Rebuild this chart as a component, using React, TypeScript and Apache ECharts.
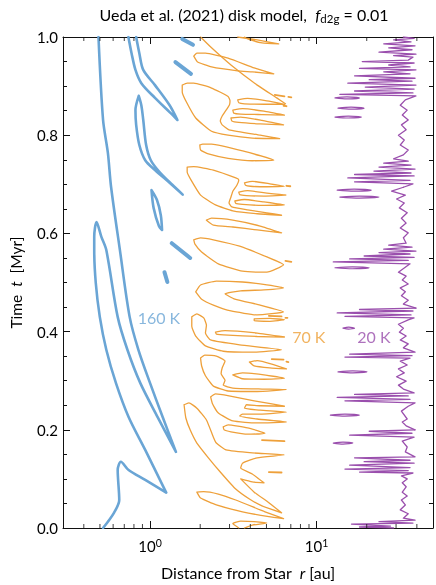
import React, { useEffect, useRef } from 'react';
import * as echarts from 'echarts';

const BLUE = '#6aa5d5';
const ORANGE = '#eea03a';
const PURPLE = '#9a4fad';
const FONT = 'Lato, "Noto Sans", sans-serif';

// axes
const xMin = 0.3;
const xMax = 50;
const yTickLabels = ['0.0', '0.2', '0.4', '0.6', '0.8', '1.0'];
const xMinorTicks = [0.4, 0.5, 0.6, 0.7, 0.8, 0.9, 2, 3, 4, 5, 6, 7, 8, 9, 20, 30, 40];

// 160 K (r [au], t [Myr])
const blueMain = [
  [0.49, 1.0], [0.522, 0.831], [0.558, 0.764], [0.583, 0.695], [0.659, 0.566], [0.754, 0.43], [0.851, 0.363],
  [1.0, 0.295], [1.19, 0.226], [1.43, 0.155], [1.11, 0.226], [0.874, 0.295], [0.731, 0.363], [0.639, 0.43],
  [0.546, 0.566], [0.51, 0.593], [0.477, 0.623], [0.462, 0.593], [0.462, 0.566], [0.472, 0.499], [0.499, 0.43],
  [0.546, 0.363], [0.624, 0.295], [0.743, 0.226], [0.935, 0.159], [1.17, 0.092], [1.25, 0.072], [0.935, 0.098],
  [0.743, 0.118], [0.668, 0.135], [0.639, 0.118], [0.653, 0.057], [0.607, 0.031], [0.522, 0.0],
];
const blueTop = [
  [0.741, 1.0], [0.774, 0.967], [0.817, 0.933], [0.886, 0.906], [1.07, 0.876], [1.31, 0.847], [1.46, 0.831],
  [1.31, 0.861], [1.07, 0.902], [0.91, 0.933], [0.862, 0.967], [0.825, 1.0],
];
const blueLoop = [
  [0.855, 0.88], [0.817, 0.851], [0.825, 0.821], [0.862, 0.78], [0.935, 0.749], [1.07, 0.729], [1.31, 0.703],
  [1.57, 0.679], [1.36, 0.699], [1.14, 0.725], [1.01, 0.749], [0.947, 0.78], [0.91, 0.831], [0.886, 0.861], [0.855, 0.88],
];
const blueOval = [[1.02, 0.688], [1.1, 0.668], [1.16, 0.637], [1.18, 0.607], [1.13, 0.615], [1.05, 0.652], [1.02, 0.688]];
const blueBlobs = [
  [[1.56, 0.996], [1.81, 0.984]],
  [[1.42, 0.949], [1.76, 0.925]],
  [[1.35, 0.58], [1.74, 0.55]],
  [[1.22, 0.521], [1.27, 0.501]],
];

// 70 K
const orangeTop = [[2.01, 1.0], [2.34, 0.978], [3.06, 0.943], [4.4, 0.902], [5.76, 0.876], [6.5, 0.864]];
const orangeSliver = [[3.36, 1.0], [4.4, 0.994], [5.92, 0.986], [4.7, 0.988], [3.85, 0.996], [3.69, 1.0]];
const orangeT3 = [[1.83, 0.961], [1.91, 0.967], [2.15, 0.967], [2.94, 0.957], [4.22, 0.937], [5.53, 0.925], [4.11, 0.929], [3.36, 0.931], [2.34, 0.939], [1.93, 0.949], [1.83, 0.961]];
const orangeG1 = [
  [1.56, 0.902], [1.67, 0.906], [1.83, 0.906], [2.34, 0.896], [2.94, 0.879], [3.02, 0.87], [3.0, 0.862], [2.86, 0.851],
  [2.71, 0.839], [2.64, 0.829], [2.71, 0.821], [2.98, 0.811], [4.58, 0.8], [6.0, 0.793], [4.11, 0.794], [2.94, 0.8],
  [2.34, 0.808], [1.88, 0.835], [1.65, 0.868], [1.56, 0.888], [1.56, 0.902],
];
const orangeG1a = [[3.36, 0.872], [3.85, 0.875], [5.03, 0.87], [6.41, 0.863], [4.83, 0.863], [3.69, 0.864], [3.41, 0.866], [3.36, 0.872]];
const orangeG1b = [[3.14, 0.851], [3.59, 0.854], [4.83, 0.849], [6.41, 0.841], [4.7, 0.842], [3.5, 0.843], [3.18, 0.845], [3.14, 0.851]];
const orangeG1c = [[3.06, 0.835], [3.5, 0.837], [4.7, 0.83], [6.33, 0.821], [4.58, 0.823], [3.41, 0.826], [3.1, 0.829], [3.06, 0.835]];
const orangeT4 = [[1.99, 0.78], [2.07, 0.782], [2.34, 0.782], [3.69, 0.767], [5.53, 0.749], [4.11, 0.748], [2.94, 0.753], [2.24, 0.762], [2.01, 0.77], [1.99, 0.78]];
const orangeG2 = [
  [1.67, 0.735], [1.83, 0.736], [2.4, 0.729], [3.27, 0.713], [3.41, 0.709], [3.32, 0.698], [3.14, 0.686], [3.06, 0.674],
  [2.98, 0.662], [3.1, 0.654], [3.85, 0.648], [5.03, 0.642], [6.16, 0.637], [4.4, 0.64], [3.14, 0.646], [2.47, 0.658],
  [2.01, 0.678], [1.76, 0.709], [1.67, 0.725], [1.67, 0.735],
];
const orangeG2a = [[3.69, 0.703], [4.11, 0.706], [5.24, 0.701], [6.41, 0.696], [5.03, 0.695], [4.0, 0.696], [3.74, 0.698], [3.69, 0.703]];
const orangeG2b = [[3.41, 0.684], [3.85, 0.687], [5.03, 0.682], [6.59, 0.678], [4.83, 0.676], [3.79, 0.677], [3.45, 0.679], [3.41, 0.684]];
const orangeG2c = [[3.23, 0.666], [3.69, 0.669], [4.83, 0.664], [6.41, 0.658], [4.7, 0.657], [3.59, 0.659], [3.27, 0.661], [3.23, 0.666]];
const orangeT5 = [[2.18, 0.627], [2.34, 0.631], [3.14, 0.627], [4.58, 0.615], [6.16, 0.601], [4.4, 0.607], [3.14, 0.613], [2.4, 0.617], [2.18, 0.627]];
const orangeT6 = [[1.83, 0.587], [2.01, 0.591], [2.4, 0.587], [3.45, 0.574], [5.03, 0.552], [6.33, 0.536], [5.03, 0.521], [3.59, 0.523], [2.57, 0.538], [2.04, 0.562], [1.86, 0.578], [1.83, 0.587]];
const orangeT7 = [
  [1.88, 0.481], [2.01, 0.495], [2.5, 0.503], [3.59, 0.501], [5.03, 0.495], [6.33, 0.489], [4.83, 0.485], [3.5, 0.483],
  [2.82, 0.477], [3.23, 0.466], [4.58, 0.454], [6.33, 0.44], [4.4, 0.434], [3.06, 0.442], [2.4, 0.454], [2.04, 0.466], [1.88, 0.481],
];
const orangeSmall = [[4.22, 0.426], [5.24, 0.427], [6.41, 0.424], [5.24, 0.421], [4.22, 0.422], [4.22, 0.426]];
const orangeG3 = [
  [1.78, 0.43], [1.91, 0.436], [2.1, 0.428], [2.18, 0.413], [2.15, 0.397], [2.31, 0.383], [3.45, 0.373], [6.16, 0.363],
  [4.11, 0.358], [2.75, 0.36], [2.15, 0.371], [1.88, 0.391], [1.78, 0.411], [1.78, 0.43],
];
const orangeG3c = [[2.47, 0.399], [2.82, 0.402], [4.4, 0.397], [6.41, 0.389], [4.4, 0.39], [2.94, 0.393], [2.5, 0.395], [2.47, 0.399]];
const orangeG4 = [
  [2.01, 0.346], [2.13, 0.352], [2.5, 0.35], [2.82, 0.34], [2.71, 0.326], [2.67, 0.314], [2.82, 0.301], [2.75, 0.291],
  [3.14, 0.285], [4.7, 0.283], [6.59, 0.282], [4.4, 0.278], [2.94, 0.279], [2.4, 0.289], [2.15, 0.31], [2.04, 0.33], [2.01, 0.346],
];
const orangeG4a = [[3.95, 0.338], [4.4, 0.341], [5.38, 0.334], [6.59, 0.324], [5.24, 0.326], [4.22, 0.33], [3.95, 0.338]];
const orangeG4b = [[3.14, 0.312], [3.59, 0.316], [4.83, 0.312], [6.41, 0.305], [4.83, 0.303], [3.59, 0.304], [3.14, 0.312]];
const orangeG5 = [
  [2.31, 0.267], [2.47, 0.273], [2.98, 0.269], [4.22, 0.259], [6.41, 0.248], [4.58, 0.249], [3.79, 0.251], [3.69, 0.244],
  [4.58, 0.24], [6.59, 0.236], [4.7, 0.232], [3.59, 0.232], [3.45, 0.228], [4.4, 0.222], [6.59, 0.216], [4.4, 0.214],
  [3.14, 0.218], [2.57, 0.234], [2.37, 0.253], [2.31, 0.267],
];
const orangeN = [[2.75, 0.206], [2.94, 0.21], [3.85, 0.204], [4.9, 0.193], [3.85, 0.191], [3.06, 0.196], [2.78, 0.2], [2.75, 0.206]];
const orangeS = [
  [1.6, 0.251], [1.71, 0.255], [1.91, 0.244], [2.18, 0.22], [2.4, 0.185], [2.5, 0.173], [2.86, 0.159], [4.11, 0.153],
  [6.41, 0.149], [4.4, 0.143], [3.59, 0.132], [3.5, 0.122], [4.11, 0.11], [4.83, 0.092], [4.11, 0.094], [3.5, 0.1],
  [4.22, 0.073], [5.1, 0.053], [6.16, 0.031], [4.7, 0.045], [3.95, 0.059], [3.23, 0.081], [2.64, 0.114], [2.24, 0.143],
  [1.91, 0.173], [1.74, 0.2], [1.64, 0.224], [1.6, 0.251],
];
const orangeT8 = [[1.91, 0.073], [2.1, 0.074], [2.57, 0.069], [3.27, 0.057], [4.9, 0.033], [6.33, 0.019], [5.17, 0.023], [3.59, 0.033], [2.5, 0.047], [2.01, 0.061], [1.91, 0.073]];
const orangeBottom = [[3.41, 0], [3.14, 0.009], [3.5, 0.014], [4.22, 0.013], [5.03, 0.01], [4.11, 0.006], [3.69, 0]];
const orangeDashes = [
  [[5.61, 0.882], [6.41, 0.879]], [[6.77, 0.878], [7.05, 0.877]], [[6.33, 0.86], [6.59, 0.859]],
  [[6.59, 0.697], [6.95, 0.696]], [[6.5, 0.544], [7.05, 0.542]], [[5.17, 0.432], [6.16, 0.431]],
  [[6.5, 0.428], [6.68, 0.428]], [[5.38, 0.344], [6.33, 0.343]], [[6.59, 0.339], [6.77, 0.338]],
  [[4.7, 0.179], [6.41, 0.177]], [[5.17, 0.114], [6.16, 0.113]],
];

// 20 K
const purpleLow = [
  [29.0, 0], [18.1, 0.002], [27.8, 0.004], [16.2, 0.008], [37.9, 0.01], [23.7, 0.013], [39.0, 0.016], [33.2, 0.02],
  [35.5, 0.029], [31.8, 0.037], [34.1, 0.047], [32.3, 0.057], [35.0, 0.065], [32.7, 0.073], [34.5, 0.084], [32.7, 0.092], [35.0, 0.1], [32.3, 0.106],
  [37.9, 0.112], [18.1, 0.114], [35.5, 0.117], [14.8, 0.12], [36.4, 0.123], [15.8, 0.128], [38.5, 0.132], [19.3, 0.135], [36.4, 0.138], [16.9, 0.143], [39.0, 0.145],
  [34.1, 0.155], [35.0, 0.165], [32.7, 0.177],
  [38.5, 0.185], [15.8, 0.189], [37.4, 0.193], [20.7, 0.197], [39.0, 0.2],
];
const purpleMidLow = [
  [39.0, 0.2], [34.5, 0.208], [32.7, 0.216], [35.0, 0.222], [32.3, 0.238], [35.5, 0.248],
  [39.0, 0.255], [14.8, 0.259], [36.4, 0.262], [13.3, 0.266], [35.5, 0.269], [16.9, 0.272], [38.5, 0.275],
  [33.2, 0.283], [31.0, 0.291], [34.5, 0.299], [30.2, 0.308], [33.6, 0.316], [31.0, 0.324], [35.0, 0.332], [31.8, 0.34],
  [36.4, 0.346], [14.8, 0.348], [37.4, 0.351], [15.8, 0.354], [39.0, 0.358],
  [33.2, 0.367], [35.5, 0.375], [31.8, 0.383], [34.5, 0.391], [31.4, 0.399], [33.2, 0.407], [31.0, 0.415], [35.5, 0.424],
  [38.5, 0.428], [14.8, 0.431], [36.9, 0.434], [13.3, 0.438], [37.9, 0.442], [18.1, 0.445], [39.5, 0.448],
];
const purpleMidHigh = [
  [39.5, 0.448], [33.2, 0.456], [35.5, 0.464], [32.3, 0.473], [34.1, 0.481], [31.8, 0.489], [35.5, 0.497], [32.7, 0.505], [34.5, 0.513], [31.0, 0.521],
  [36.4, 0.538], [12.6, 0.542], [35.5, 0.545], [15.8, 0.548], [38.5, 0.551], [19.3, 0.554], [36.4, 0.558], [23.7, 0.561], [39.5, 0.564], [25.3, 0.568], [37.4, 0.572], [27.1, 0.576], [34.5, 0.58],
  [33.2, 0.591], [35.5, 0.601], [31.8, 0.611], [34.5, 0.621], [32.3, 0.631], [35.0, 0.642], [31.4, 0.652], [33.6, 0.662], [30.2, 0.67], [34.1, 0.678], [28.2, 0.686], [33.2, 0.694],
];
const purpleHigh = [
  [33.2, 0.694],
  [37.9, 0.701], [16.9, 0.705], [36.4, 0.708], [15.4, 0.713], [38.5, 0.717], [16.9, 0.72], [36.9, 0.723], [22.1, 0.727], [39.0, 0.731], [23.7, 0.735], [36.9, 0.739], [25.3, 0.743], [35.5, 0.747], [29.0, 0.752],
  [33.2, 0.76], [35.5, 0.77], [31.8, 0.78], [33.6, 0.79], [31.0, 0.8], [34.5, 0.811], [32.3, 0.821], [35.5, 0.831], [32.7, 0.841], [35.0, 0.851], [31.8, 0.861], [34.1, 0.872],
  [39.5, 0.88], [13.8, 0.883], [37.9, 0.886], [16.9, 0.89], [38.5, 0.894], [19.6, 0.898], [39.5, 0.902], [15.4, 0.906], [37.4, 0.91], [20.7, 0.913], [39.0, 0.916], [16.9, 0.921], [36.4, 0.925], [25.3, 0.929], [39.5, 0.933], [18.1, 0.936], [36.4, 0.939], [27.1, 0.943], [38.5, 0.947], [18.8, 0.95], [35.5, 0.953],
  [37.9, 0.959], [29.0, 0.962], [39.5, 0.965], [23.7, 0.969], [37.4, 0.974], [27.1, 0.978], [39.0, 0.982], [25.3, 0.986], [36.9, 0.99], [29.0, 0.994], [38.5, 0.997], [33.2, 1.0],
];
const purpleIslands = [
  [[12.9, 0.876], [15.2, 0.878], [18.1, 0.876], [15.2, 0.874], [12.9, 0.876]],
  [[13.45, 0.855], [16.1, 0.857], [19.3, 0.855], [16.1, 0.853], [13.45, 0.855]],
  [[12.9, 0.837], [15.5, 0.839], [18.6, 0.837], [15.5, 0.835], [12.9, 0.837]],
  [[13.3, 0.688], [16.8, 0.69], [21.3, 0.688], [16.8, 0.686], [13.3, 0.688]],
  [[13.8, 0.674], [18.1, 0.676], [23.7, 0.674], [18.1, 0.672], [13.8, 0.674]],
  [[12.9, 0.53], [16.4, 0.532], [20.7, 0.53], [16.4, 0.528], [12.9, 0.53]],
  [[14.4, 0.407], [15.6, 0.409], [16.9, 0.407], [15.6, 0.405], [14.4, 0.407]],
  [[13.45, 0.318], [16.5, 0.32], [20.1, 0.318], [16.5, 0.316], [13.45, 0.318]],
  [[12.1, 0.23], [14.8, 0.232], [18.1, 0.23], [14.8, 0.228], [12.1, 0.23]],
  [[12.6, 0.173], [14.4, 0.175], [16.5, 0.173], [14.4, 0.171], [12.6, 0.173]],
];

// labels
const labelTexts = ['160 K', '70 K', '20 K'];
const labelR = [1.13, 8.98, 22.1];
const labelT = [0.429, 0.391, 0.391];
const labelColors = [BLUE, ORANGE, PURPLE];

const contour = (data: number[][], color: string, width: number, smooth = 0.3) => ({
  type: 'line',
  data,
  showSymbol: false,
  symbol: 'none',
  smooth,
  silent: true,
  clip: true,
  lineStyle: { color, width, join: 'round', cap: 'round' },
  z: 3,
});

const fmtPow = (v: number) => {
  const l = Math.log10(v);
  const n = Math.round(l);
  return Math.abs(l - n) < 1e-6 ? `{b|10}{p|${n}}` : '';
};

const tickScatter = (xi: number, yv: number, off: number) => ({
  type: 'scatter',
  xAxisIndex: xi,
  yAxisIndex: 0,
  data: xMinorTicks.map((v) => [v, yv]),
  symbol: 'rect',
  symbolSize: [1, 4],
  symbolOffset: [0, off],
  itemStyle: { color: '#111' },
  silent: true,
  clip: false,
  z: 5,
});

const axisLineStyle = { show: true, onZero: false, lineStyle: { color: '#111', width: 1 } };

export default function App() {
  const ref = useRef<HTMLDivElement>(null);
  useEffect(() => {
    if (!ref.current) return;
    const chart = echarts.init(ref.current, null, { renderer: 'svg' });
    const blue = [blueMain, blueTop, blueLoop, blueOval].map((d) => contour(d, BLUE, 2.6, 0.3));
    const blobs = blueBlobs.map((d) => contour(d, BLUE, 4, 0));
    const orange = [
      orangeTop, orangeSliver, orangeT3, orangeG1, orangeG1a, orangeG1b, orangeG1c, orangeT4, orangeG2,
      orangeG2a, orangeG2b, orangeG2c, orangeT5, orangeT6, orangeT7, orangeSmall, orangeG3, orangeG3c,
      orangeG4, orangeG4a, orangeG4b, orangeG5, orangeN, orangeS, orangeT8, orangeBottom,
    ].map((d) => contour(d, ORANGE, 1.3, 0.15));
    const dashes = orangeDashes.map((d) => contour(d, ORANGE, 1.8, 0));
    const purple = [purpleLow, purpleMidLow, purpleMidHigh, purpleHigh].map((d) => contour(d, PURPLE, 1.3, 0));
    const islands = purpleIslands.map((d) => contour(d, PURPLE, 1.2, 0.3));

    const option: any = {
      animation: false,
      grid: { left: 56, right: 2, top: 37, bottom: 57, containLabel: false },
      graphic: [
        {
          type: 'text',
          x: 244,
          y: 14,
          style: {
            text: '{a|Ueda et al. (2021) disk model,  }{i|f}{s|d2g}{a| = 0.01}',
            align: 'center',
            verticalAlign: 'middle',
            rich: {
              a: { fontSize: 16, fontFamily: FONT, fill: '#000', lineHeight: 20 },
              i: { fontSize: 16, fontFamily: FONT, fill: '#000', fontStyle: 'italic', lineHeight: 20 },
              s: { fontSize: 11.5, fontFamily: FONT, fill: '#000', verticalAlign: 'bottom', lineHeight: 11 },
            },
          },
        },
      ],
      xAxis: [
        {
          type: 'log',
          min: xMin,
          max: xMax,
          position: 'bottom',
          axisLine: axisLineStyle,
          axisTick: { show: true, inside: true, length: 7, lineStyle: { color: '#111' } },
          axisLabel: {
            formatter: fmtPow,
            margin: 9,
            rich: {
              b: { fontSize: 15, fontFamily: FONT, color: '#000', lineHeight: 18 },
              p: { fontSize: 10.5, fontFamily: FONT, color: '#000', verticalAlign: 'top', lineHeight: 8 },
            },
          },
          splitLine: { show: false },
          name: 'Distance from Star  {i|r} [au]',
          nameLocation: 'middle',
          nameGap: 36,
          nameTextStyle: {
            fontSize: 16,
            fontFamily: FONT,
            color: '#000',
            rich: { i: { fontSize: 16, fontFamily: FONT, color: '#000', fontStyle: 'italic' } },
          },
        },
        {
          type: 'log',
          min: xMin,
          max: xMax,
          position: 'top',
          axisLine: axisLineStyle,
          axisTick: { show: true, inside: true, length: 7, lineStyle: { color: '#111' } },
          axisLabel: { show: false },
          splitLine: { show: false },
        },
      ],
      yAxis: [
        {
          type: 'value',
          min: 0,
          max: 1,
          interval: 0.2,
          position: 'left',
          axisLine: axisLineStyle,
          axisTick: { show: true, inside: true, length: 7, lineStyle: { color: '#111' } },
          minorTick: { show: true, splitNumber: 4, length: 4, lineStyle: { color: '#111' } },
          axisLabel: {
            formatter: (v: number) => yTickLabels[Math.round(v * 5)] ?? '',
            margin: 5,
            fontSize: 15,
            fontFamily: FONT,
            color: '#000',
          },
          splitLine: { show: false },
          name: 'Time  {i|t}  [Myr]',
          nameLocation: 'middle',
          nameGap: 39,
          nameTextStyle: {
            fontSize: 15.5,
            fontFamily: FONT,
            color: '#000',
            rich: { i: { fontSize: 15.5, fontFamily: FONT, color: '#000', fontStyle: 'italic' } },
          },
        },
        {
          type: 'value',
          min: 0,
          max: 1,
          interval: 0.2,
          position: 'right',
          axisLine: axisLineStyle,
          axisTick: { show: true, inside: true, length: 7, lineStyle: { color: '#111' } },
          minorTick: { show: true, splitNumber: 4, length: 4, lineStyle: { color: '#111' } },
          axisLabel: { show: false },
          splitLine: { show: false },
        },
      ],
      series: [
        ...blue,
        ...blobs,
        ...orange,
        ...dashes,
        ...purple,
        ...islands,
        tickScatter(0, 0, -2),
        tickScatter(1, 1, 2),
        {
          type: 'scatter',
          data: labelTexts.map((s, i) => ({
            value: [labelR[i], labelT[i]],
            name: s,
            label: { color: labelColors[i] },
          })),
          symbolSize: 1,
          itemStyle: { color: 'rgba(0,0,0,0)' },
          label: { show: true, position: 'inside', formatter: '{b}', fontSize: 16, fontFamily: FONT },
          silent: true,
          clip: false,
          z: 6,
        },
      ],
    };
    chart.setOption(option);
    return () => chart.dispose();
  }, []);
  return <div ref={ref} style={{ position: 'fixed', left: 0, top: 0, width: 436, height: 585 }} />;
}
